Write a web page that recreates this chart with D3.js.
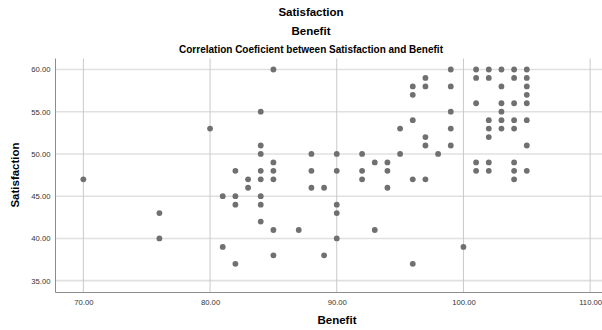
<!DOCTYPE html>
<html>
<head>
<meta charset="utf-8">
<script src="https://cdn.jsdelivr.net/npm/d3@7"></script>
<style>
  body { margin: 0; background: #fff; }
  svg { display: block; font-family: "Liberation Sans", Arial, sans-serif; }
</style>
</head>
<body>
<figure id="scatter" style="margin:0"></figure>
<script>
// Benefit (x) and Satisfaction (y) for each case
const benefit = [
  70, 76, 76, 80, 81, 81, 82, 82, 82, 82, 83, 83,
  84, 84, 84, 84, 84, 84, 84, 84,
  85, 85, 85, 85, 85, 85, 87, 88, 88, 88, 89, 89,
  90, 90, 90, 90, 90, 92, 92, 92, 93, 93, 94, 94, 94, 95, 95,
  96, 96, 96, 96, 96, 97, 97, 97, 97, 97, 98,
  99, 99, 99, 99, 99, 100,
  101, 101, 101, 101, 101,
  102, 102, 102, 102, 102, 102, 102,
  103, 103, 103, 103, 103, 103,
  104, 104, 104, 104, 104, 104, 104, 104,
  105, 105, 105, 105, 105, 105, 105, 105
];
const satisfaction = [
  47, 43, 40, 53, 45, 39, 48, 45, 44, 37, 47, 46,
  55, 51, 50, 48, 47, 45, 44, 42,
  60, 49, 48, 47, 41, 38, 41, 50, 48, 46, 46, 38,
  50, 48, 44, 43, 40, 50, 48, 47, 49, 41, 49, 48, 46, 53, 50,
  58, 57, 54, 47, 37, 59, 58, 52, 51, 47, 50,
  60, 58, 55, 53, 51, 39,
  60, 59, 56, 49, 48,
  60, 59, 54, 53, 52, 49, 48,
  60, 58, 56, 55, 54, 53,
  60, 59, 56, 54, 53, 49, 48, 47,
  60, 59, 58, 57, 56, 54, 51, 48
];
const xTicks = [70, 80, 90, 100, 110];
const yTicks = [35, 40, 45, 50, 55, 60];

const width = 602;
const height = 330;
// plot box; the right side runs past the picture edge like the original
const plot = { left: 55.5, right: 618, top: 58.5, bottom: 292.5 };

const svg = d3.select("figure#scatter")
  .append("svg")
  .attr("width", width)
  .attr("height", height);

const x = d3.scaleLinear().domain([67.8, 112.2]).range([plot.left, plot.right]);
const y = d3.scaleLinear().domain([33.6, 61.3]).range([plot.bottom, plot.top]);

// gridlines
svg.append("g")
  .selectAll("line")
  .data(yTicks)
  .enter()
  .append("line")
  .attr("x1", plot.left)
  .attr("x2", plot.right)
  .attr("y1", d => y(d))
  .attr("y2", d => y(d))
  .attr("stroke", "#e0e0e0")
  .attr("stroke-width", 1.6);

svg.append("g")
  .selectAll("line")
  .data(xTicks)
  .enter()
  .append("line")
  .attr("x1", d => x(d))
  .attr("x2", d => x(d))
  .attr("y1", plot.top)
  .attr("y2", plot.bottom)
  .attr("stroke", "#c9c9c9")
  .attr("stroke-width", 1);

// axes
const fmt = d3.format(".2f");
const xAxis = svg.append("g")
  .attr("transform", `translate(0,${plot.bottom})`)
  .call(d3.axisBottom(x).tickValues(xTicks).tickFormat(fmt).tickSize(0).tickPadding(7));
const yAxis = svg.append("g")
  .attr("transform", `translate(${plot.left},0)`)
  .call(d3.axisLeft(y).tickValues(yTicks).tickFormat(fmt).tickSize(0).tickPadding(5));

[xAxis, yAxis].forEach(a => {
  a.select(".domain").remove();
  a.selectAll("text")
    .style("font-size", "7.7px")
    .attr("fill", "#333");
});

svg.append("line")
  .attr("x1", plot.left).attr("x2", plot.left)
  .attr("y1", plot.top).attr("y2", plot.bottom)
  .attr("stroke", "#8c8c8c");
svg.append("line")
  .attr("x1", plot.left).attr("x2", plot.right)
  .attr("y1", plot.bottom).attr("y2", plot.bottom)
  .attr("stroke", "#8c8c8c");

// points
svg.append("g")
  .selectAll("circle")
  .data(benefit.map((b, i) => ({ b: b, s: satisfaction[i] })))
  .enter()
  .append("circle")
  .attr("cx", d => x(d.b))
  .attr("cy", d => y(d.s))
  .attr("r", 2.9)
  .attr("fill", "#707070");

// titles
const titles = [
  { text: "Satisfaction", y: 16, size: "11.5px" },
  { text: "Benefit", y: 35, size: "11.5px" }
];
svg.selectAll("text.title")
  .data(titles)
  .enter()
  .append("text")
  .attr("class", "title")
  .attr("x", 311)
  .attr("y", d => d.y)
  .attr("text-anchor", "middle")
  .style("font-size", d => d.size)
  .style("font-weight", "bold")
  .text(d => d.text);

svg.append("text")
  .attr("x", 311)
  .attr("y", 52.5)
  .attr("text-anchor", "middle")
  .style("font-size", "10px")
  .style("font-weight", "bold")
  .text("Correlation Coeficient between Satisfaction and Benefit");

svg.append("text")
  .attr("x", 337)
  .attr("y", 324)
  .attr("text-anchor", "middle")
  .style("font-size", "11.5px")
  .style("font-weight", "bold")
  .text("Benefit");

svg.append("text")
  .attr("transform", "translate(19,175) rotate(-90)")
  .attr("text-anchor", "middle")
  .style("font-size", "11.5px")
  .style("font-weight", "bold")
  .text("Satisfaction");
</script>
</body>
</html>
